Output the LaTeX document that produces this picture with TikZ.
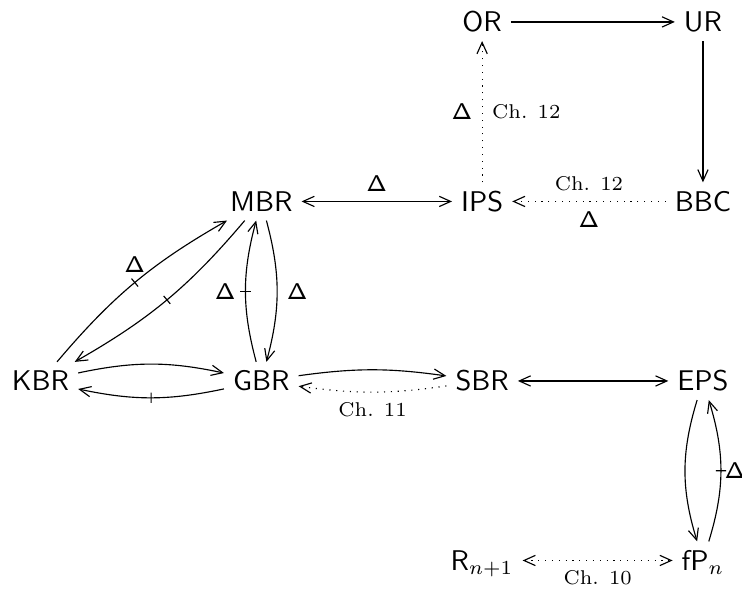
\documentclass[tikz,border=0pt]{standalone}
\usepackage{amsmath}
\usetikzlibrary{positioning,arrows.meta,decorations.markings}
\tikzset{
  obj/.style    = {font=\sffamily, inner sep=3pt, text height=7pt, text depth=0pt},
  map/.style    = {-{Straight Barb[length=4pt,width=3.6pt]}},
  twoway/.style = {{Straight Barb[length=4pt,width=3.6pt]}-{Straight Barb[length=4pt,width=3.6pt]}},
  weak/.style   = {dotted},
  ticked/.style = {postaction={decorate}, decoration={markings,
                   mark=at position 0.5 with {\draw[-,solid] (0,-1.8pt) -- (0,1.8pt);}}},
  dlt/.style    = {font=\footnotesize},
  chap/.style   = {font=\scriptsize},
}
\newcommand{\dl}{$\mathsf{\Delta}$}

\begin{document}
\begin{tikzpicture}[node distance=63pt and 77.5pt, on grid]
  \useasboundingbox (-14.2pt,-74.7pt) rectangle (246.2pt,133.7pt);

  \node[obj] (kbr) {KBR};
  \node[obj, right=of kbr] (gbr) {GBR};
  \node[obj, right=of gbr] (sbr) {SBR};
  \node[obj, right=of sbr] (eps) {EPS};
  \node[obj, above=of gbr] (mbr) {MBR};
  \node[obj, above=of sbr] (ips) {IPS};
  \node[obj, above=of eps] (bbc) {BBC};
  \node[obj, above=of ips] (or)  {OR};
  \node[obj, above=of bbc] (ur)  {UR};
  \node[obj, below=of sbr] (rn)  {R$_{n+1}$};
  \node[obj, below=of eps] (fpn) {fP$_n$};

  % top square
  \draw[map] (or) -- (ur);
  \draw[map] (ur) -- (bbc);
  \draw[map, weak] (bbc) -- node[above, chap] {Ch. 12} node[below, dlt] {\dl} (ips);
  \draw[map, weak] (ips) -- node[left, dlt] {\dl} node[right, chap] {Ch. 12} (or);
  \draw[twoway] (mbr) -- node[above, dlt] {\dl} (ips);

  % left triangle
  \draw[map, ticked] (kbr) to[bend left=10] node[above, dlt] {\dl} (mbr);
  \draw[map, ticked] (mbr) to[bend left=10] (kbr);
  \draw[map, ticked] (gbr) to[bend left=15] node[left, dlt] {\dl} (mbr);
  \draw[map] (mbr) to[bend left=15] node[right, dlt] {\dl} (gbr);
  \draw[map] (kbr) to[bend left=12] (gbr);
  \draw[map, ticked] (gbr) to[bend left=12] (kbr);

  % middle row
  \draw[map] (gbr) to[bend left=8] (sbr);
  \draw[map, weak] (sbr) to[bend left=8] node[below, chap] {Ch. 11} (gbr);
  \draw[twoway] (sbr) -- (eps);

  % right column and bottom
  \draw[map] (eps) to[bend right=17] (fpn);
  \draw[map, ticked] (fpn) to[bend right=17] node[right, dlt, inner sep=1.2pt] {\dl} (eps);
  \draw[twoway, weak] (rn) -- node[below, chap] {Ch. 10} (fpn);
\end{tikzpicture}
\end{document}
